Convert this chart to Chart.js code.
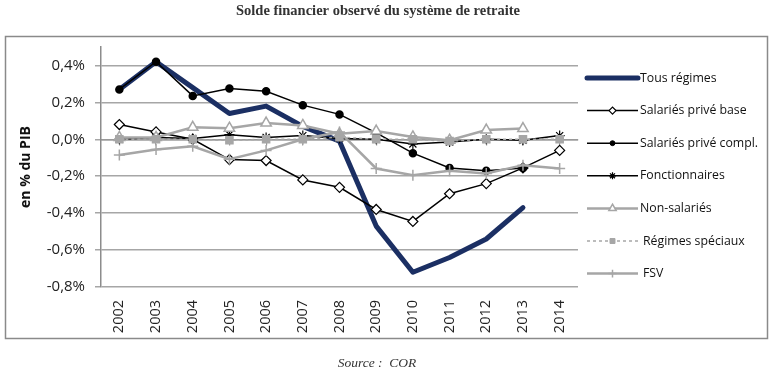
<!DOCTYPE html>
<html>
<head>
<meta charset="utf-8">
<script src="https://cdn.jsdelivr.net/npm/chart.js@4"></script>
<style>
html,body{margin:0;padding:0;background:#fff;}
canvas{display:block;}
</style>
</head>
<body>
<canvas id="c" width="780" height="379"></canvas>
<script>
// ---- data ----
const years = ['2002','2003','2004','2005','2006','2007','2008','2009','2010','2011','2012','2013','2014'];
const tousRegimes     = [0.27, 0.42, 0.28, 0.14, 0.18, 0.07, -0.01, -0.47, -0.72, -0.64, -0.54, -0.37, null];
const salariesBase    = [0.08, 0.04, 0.00, -0.11, -0.115, -0.22, -0.26, -0.38, -0.445, -0.295, -0.24, -0.155, -0.06];
const salariesCompl   = [0.27, 0.42, 0.235, 0.275, 0.26, 0.185, 0.135, 0.035, -0.075, -0.155, -0.17, -0.155, null];
const fonctionnaires  = [0.0, 0.01, 0.005, 0.025, 0.01, 0.02, 0.005, 0.0, -0.025, -0.015, 0.0, -0.005, 0.02];
const nonSalaries     = [0.01, 0.01, 0.065, 0.06, 0.088, 0.075, 0.03, 0.045, 0.013, -0.005, 0.05, 0.058, null];
const regimesSpeciaux = [0.0, 0.0, 0.0, -0.005, 0.0, 0.0, 0.012, 0.0, 0.0, -0.01, 0.0, 0.0, 0.0];
const fsv             = [-0.085, -0.055, -0.038, -0.108, -0.06, 0.0, 0.04, -0.158, -0.195, -0.17, -0.185, -0.14, -0.158];
const yTicks      = [-0.8, -0.6, -0.4, -0.2, 0.0, 0.2, 0.4];
const yTickLabels = ['-0,8%', '-0,6%', '-0,4%', '-0,2%', '0,0%', '0,2%', '0,4%'];
const seriesNames = ['Tous régimes','Salariés privé base','Salariés privé compl.','Fonctionnaires','Non-salariés','Régimes spéciaux','FSV'];
const chartTitle  = 'Solde financier observé du système de retraite';
const sourceText  = 'Source :  COR';

const NAVY = '#1b2f63', GRAY = '#a6a6a6', BLACK = '#000000';

const datasets = [
  {label: seriesNames[0], data: tousRegimes, borderColor: NAVY, borderWidth: 5, pointRadius: 0, borderJoinStyle: 'round', borderCapStyle: 'round', order: 6},
  {label: seriesNames[1], data: salariesBase, borderColor: BLACK, borderWidth: 1.5, pointStyle: 'rectRot', pointRadius: 5, pointBackgroundColor: '#fff', pointBorderColor: BLACK, pointBorderWidth: 1.2, order: 5},
  {label: seriesNames[2], data: salariesCompl, borderColor: BLACK, borderWidth: 1.5, pointStyle: 'circle', pointRadius: 3.5, pointBackgroundColor: BLACK, pointBorderColor: BLACK, order: 4},
  {label: seriesNames[3], data: fonctionnaires, borderColor: BLACK, borderWidth: 1.5, pointStyle: 'star', pointRadius: 5, pointBorderColor: BLACK, pointBorderWidth: 1.2, order: 3},
  {label: seriesNames[4], data: nonSalaries, borderColor: GRAY, borderWidth: 2.5, pointStyle: 'triangle', pointRadius: 6, pointBackgroundColor: '#fff', pointBorderColor: GRAY, pointBorderWidth: 1.5, order: 2},
  {label: seriesNames[5], data: regimesSpeciaux, borderColor: GRAY, borderWidth: 1.5, borderDash: [3, 3], pointStyle: 'rect', pointRadius: 5, pointBackgroundColor: GRAY, pointBorderColor: GRAY, order: 1},
  {label: seriesNames[6], data: fsv, borderColor: GRAY, borderWidth: 2.5, pointStyle: 'cross', pointRadius: 5.5, pointBorderColor: GRAY, pointBorderWidth: 1.5, order: 0}
];
datasets.forEach(d => { d.fill = false; d.tension = 0; d.clip = false; });

const framePlugin = {
  id: 'frame',
  beforeDraw(chart) {
    const ctx = chart.ctx;
    ctx.save();
    ctx.fillStyle = '#fff';
    ctx.fillRect(0, 0, chart.width, chart.height);
    ctx.strokeStyle = '#8a8a8a';
    ctx.lineWidth = 1.5;
    ctx.strokeRect(5.5, 36.5, 762, 302);
    ctx.fillStyle = '#333';
    ctx.textAlign = 'center';
    ctx.textBaseline = 'middle';
    ctx.font = 'bold 14.5px "Liberation Serif", serif';
    ctx.fillText(chartTitle, 378, 11);
    ctx.font = 'italic 13.5px "Liberation Serif", serif';
    ctx.fillText(sourceText, 377, 363);
    ctx.restore();
  }
};

const legendPlugin = {
  id: 'customLegend',
  afterDraw(chart) {
    const ctx = chart.ctx;
    const x0 = chart.chartArea.right + 9, x1 = x0 + 51;
    const y0 = 78, step = 32.6;
    ctx.save();
    chart.data.datasets.forEach((ds, i) => {
      const y = y0 + i * step;
      ctx.save();
      ctx.strokeStyle = ds.borderColor;
      ctx.lineWidth = ds.borderWidth;
      ctx.lineCap = ds.borderCapStyle || 'butt';
      if (ds.borderDash) ctx.setLineDash(ds.borderDash);
      ctx.beginPath();
      ctx.moveTo(x0, y); ctx.lineTo(x1, y);
      ctx.stroke();
      ctx.restore();
      if (ds.pointRadius > 0) {
        ctx.save();
        ctx.fillStyle = ds.pointBackgroundColor || ds.borderColor;
        ctx.strokeStyle = ds.pointBorderColor || ds.borderColor;
        ctx.lineWidth = ds.pointBorderWidth || 1;
        Chart.helpers.drawPoint(ctx, {pointStyle: ds.pointStyle, radius: ds.pointRadius * 0.7, borderWidth: ctx.lineWidth}, (x0 + x1) / 2, y);
        ctx.restore();
      }
      ctx.fillStyle = '#111';
      ctx.font = '12.3px "Open Sans"';
      ctx.textBaseline = 'middle';
      ctx.textAlign = 'left';
      const tx = (ds.borderDash || i === 6) ? x1 + 5 : x1 + 2;
      ctx.fillText(ds.label, tx, y);
    });
    ctx.restore();
  }
};

new Chart(document.getElementById('c'), {
  type: 'line',
  data: {labels: years, datasets: datasets},
  plugins: [framePlugin, legendPlugin],
  options: {
    responsive: false,
    animation: false,
    events: [],
    layout: {padding: {left: 5, right: 202, top: 47, bottom: 42}},
    plugins: {
      legend: {display: false},
      tooltip: {enabled: false},
      title: {display: false}
    },
    scales: {
      x: {
        type: 'category',
        offset: true,
        grid: {display: false, drawTicks: false},
        border: {display: false},
        ticks: {
          minRotation: 90, maxRotation: 90, autoSkip: false, padding: 13,
          color: '#222',
          font: {family: '"Open Sans"', size: 14.5}
        },
        afterFit(s) { s.height = 50; }
      },
      x2: {
        type: 'category',
        axis: 'x',
        labels: years,
        offset: true,
        position: {y: 0},
        grid: {drawOnChartArea: false, drawTicks: true, tickLength: 5, color: '#999', lineWidth: 1.2},
        border: {display: true, color: '#999', width: 1.5},
        ticks: {display: false}
      },
      y: {
        min: -0.8,
        max: 0.5,
        afterBuildTicks(axis) { axis.ticks = yTicks.map(v => ({value: v})); },
        grid: {color: '#a6a6a6', lineWidth: 1.5, drawTicks: true, tickLength: 6},
        border: {display: true, color: '#8c8c8c', width: 1.5},
        ticks: {
          padding: 10,
          color: '#222',
          font: {family: '"Open Sans"', size: 15},
          callback(value) {
            const idx = yTicks.findIndex(t => Math.abs(t - value) < 1e-9);
            return idx >= 0 ? yTickLabels[idx] : '';
          }
        },
        title: {
          display: true,
          text: 'en % du PIB',
          font: {family: '"Open Sans"', weight: 'bold', size: 14},
          color: '#111',
          padding: {top: 13, bottom: 0}
        },
        afterFit(s) { s.width = 96; }
      }
    }
  }
});
</script>
</body>
</html>
